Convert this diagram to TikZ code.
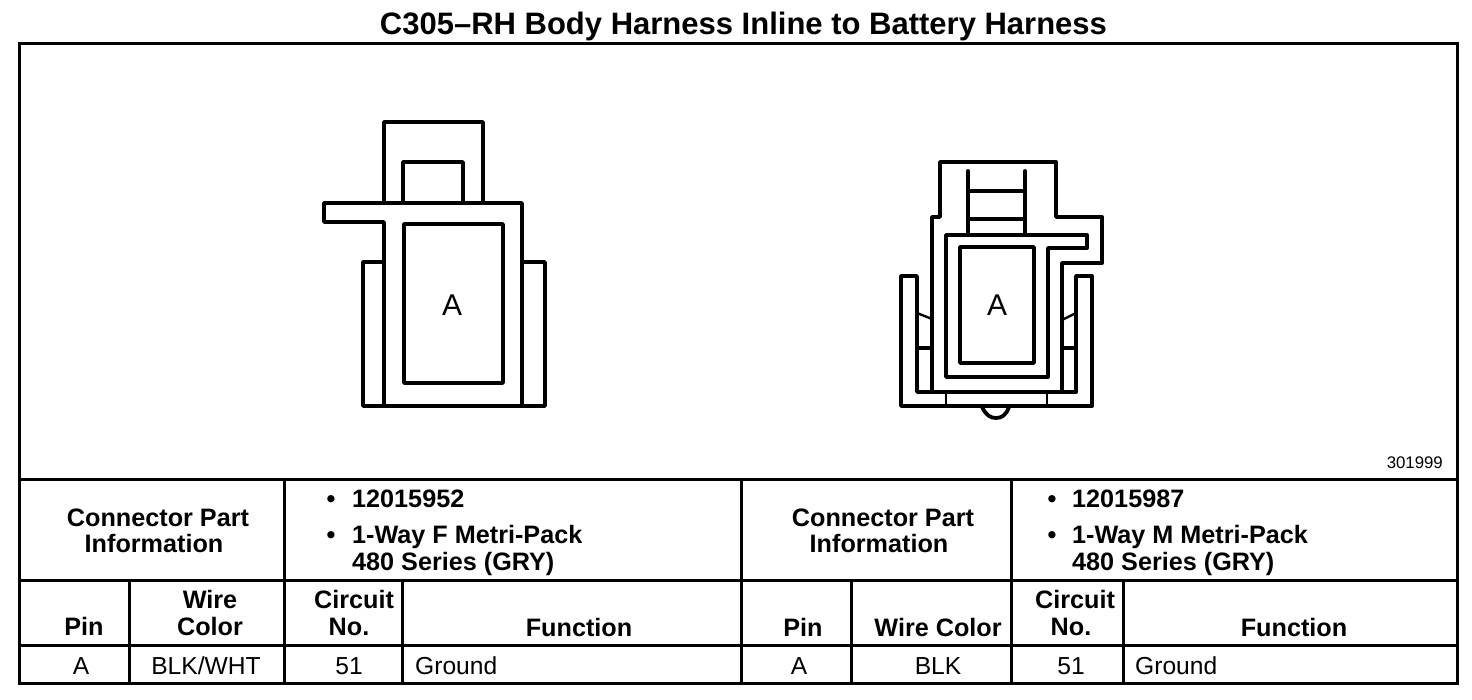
\documentclass[tikz,border=0pt]{standalone}
\usepackage{fontspec}
\setmainfont{Liberation Sans}
\tikzset{
  ln/.style={line width=3.8pt,line join=round,line cap=round},
  thinln/.style={line width=2.4pt,line cap=round},
  rule/.style={line width=3pt,line cap=rect},
  ttl/.style={inner sep=0,anchor=base,font=\fontsize{31}{33}\selectfont\bfseries},
  hd/.style={inner sep=0,anchor=base,font=\fontsize{25.2}{28}\selectfont\bfseries},
  hdl/.style={hd,anchor=base west},
  cell/.style={inner sep=0,anchor=base,font=\fontsize{24.6}{28}\selectfont},
  celll/.style={cell,anchor=base west},
  pinl/.style={inner sep=0,font=\fontsize{30}{32}\selectfont},
  refno/.style={inner sep=0,anchor=base east,font=\fontsize{16.8}{18}\selectfont}
}
\begin{document}
\begin{tikzpicture}[x=1pt,y=-1pt]
\useasboundingbox (0,0) rectangle (1472,700);
\fill[white] (0,0) rectangle (1472,700);
% frame and table
\draw[rule] (19,44) rectangle (1457,683);
\draw[rule] (19,479) -- (1457,479);
\draw[rule] (19,580) -- (1457,580);
\draw[rule] (19,645) -- (1457,645);
\draw[rule] (284,479) -- (284,683);
\draw[rule] (741,479) -- (741,683);
\draw[rule] (1011,479) -- (1011,683);
\draw[rule] (129,580) -- (129,683);
\draw[rule] (402,580) -- (402,683);
\draw[rule] (851,580) -- (851,683);
\draw[rule] (1123,580) -- (1123,683);
% left connector
\draw[ln] (384,203) -- (384,122) -- (483,122) -- (483,203);
\draw[ln] (403,203) -- (403,162) -- (463,162) -- (463,203);
\draw[ln] (384,406) -- (384,222) -- (324,222) -- (324,203) -- (522,203) -- (522,406);
\draw[ln] (404,224) rectangle (503,383);
\draw[ln] (384,262) -- (363,262) -- (363,406) -- (545,406) -- (545,262) -- (522,262);
% right connector
\draw[ln] (932,392) -- (932,217) -- (940,217) -- (940,162) -- (1056,162) -- (1056,217) -- (1102,217) -- (1102,263) -- (1062,263) -- (1062,392);
\draw[ln] (968,171) -- (968,233);
\draw[ln] (1025,171) -- (1025,233);
\draw[ln] (968,191) -- (1025,191);
\draw[ln] (968,219) -- (1025,219);
\draw[ln] (946,235) -- (1087,235) -- (1087,248) -- (1048,248) -- (1048,377) -- (946,377) -- cycle;
\draw[ln] (960,247) rectangle (1034,363);
\draw[ln] (917,392) -- (917,276) -- (901,276) -- (901,406) -- (1092,406) -- (1092,276) -- (1076,276) -- (1076,392) -- cycle;
\draw[thinln] (917,313) -- (932,319);
\draw[thinln] (1062,320) -- (1076,313);
\draw[ln] (917,348) -- (932,348);
\draw[ln] (1062,348) -- (1076,348);
\draw[thinln] (946,392) -- (946,406);
\draw[thinln] (1047,392) -- (1047,406);
\draw[ln] (982,407) .. controls (986,415) and (990,418) .. (996,418) .. controls (1002,418) and (1006,415) .. (1009,407);
% texts
\node[ttl] (title) at (743.5,35) {C305–RH Body Harness Inline to Battery Harness};
\node[pinl] (pa) at (452,305) {A};
\node[pinl] (pb) at (997,305) {A};
\node[refno] (refn) at (1443,468) {301999};
\node[hd] (cp1a) at (158,526) {Connector Part};
\node[hd] (cp1b) at (154,552) {Information};
\node[hd] (b1a) at (331,507) {•};
\node[hdl] (t1a) at (352,507) {12015952};
\node[hd] (b1b) at (331,543) {•};
\node[hdl] (t1b) at (352,543) {1-Way F Metri-Pack};
\node[hdl] (t1c) at (352,570) {480 Series (GRY)};
\node[hd] (cp2a) at (883,526) {Connector Part};
\node[hd] (cp2b) at (879,552) {Information};
\node[hd] (b2a) at (1052,507) {•};
\node[hdl] (t2a) at (1072,507) {12015987};
\node[hd] (b2b) at (1052,543) {•};
\node[hdl] (t2b) at (1072,543) {1-Way M Metri-Pack};
\node[hdl] (t2c) at (1072,570) {480 Series (GRY)};
\node[hd] (h1) at (84,635) {Pin};
\node[hd] (h2a) at (210,608) {Wire};
\node[hd] (h2b) at (210,635) {Color};
\node[hd] (h3a) at (354,608) {Circuit};
\node[hd] (h3b) at (349,635) {No.};
\node[hd] (h4) at (579,636) {Function};
\node[hd] (h5) at (803,636) {Pin};
\node[hd] (h6) at (938,636) {Wire Color};
\node[hd] (h7a) at (1075,608) {Circuit};
\node[hd] (h7b) at (1071,635) {No.};
\node[hd] (h8) at (1294,636) {Function};
\node[cell] (c1) at (81,674) {A};
\node[cell] (c2) at (206,674) {BLK/WHT};
\node[cell] (c3) at (349,674) {51};
\node[celll] (c4) at (415,674) {Ground};
\node[cell] (c5) at (799,674) {A};
\node[cell] (c6) at (938,674) {BLK};
\node[cell] (c7) at (1071,674) {51};
\node[celll] (c8) at (1135,674) {Ground};
\end{tikzpicture}
\end{document}
